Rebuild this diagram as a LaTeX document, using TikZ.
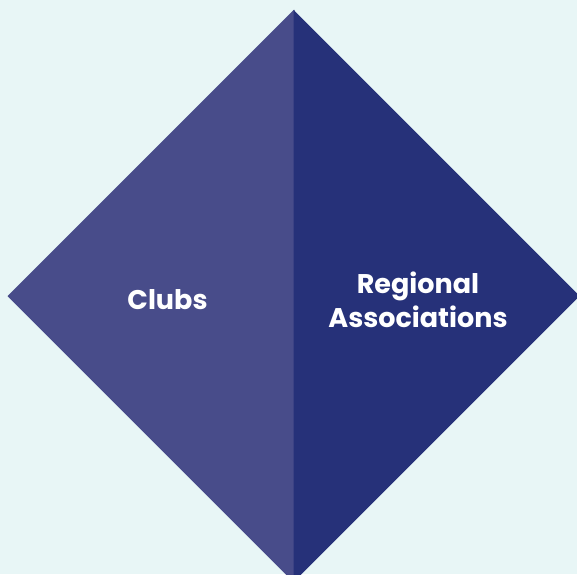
\documentclass[tikz,border=0pt]{standalone}
\usepackage{fontspec}
\setmainfont{Poppins}
\definecolor{bg}{HTML}{E8F6F6}
\definecolor{leftc}{HTML}{484C8A}
\definecolor{rightc}{HTML}{263179}
\begin{document}
\begin{tikzpicture}[x=1pt,y=1pt,
  lbl/.style={text=white,font=\fontsize{27}{34}\selectfont\bfseries,align=center,inner sep=0pt}]
\fill[bg] (0,0) rectangle (577,574);
\useasboundingbox (0,0) rectangle (577,574);
\coordinate (T) at (293.5,564);
\coordinate (L) at (7.5,278);
\coordinate (R) at (579.5,278);
\coordinate (B) at (293.5,-8);
\fill[leftc] (T) -- (L) -- (B) -- ([xshift=1pt]B) -- ([xshift=1pt]T) -- cycle;
\fill[rightc] (T) -- (R) -- (B) -- cycle;
\node[lbl,anchor=base] (clubs) at (167.5,265) {Clubs};
\node[lbl,anchor=base] (reg) at (418,281) {Regional};
\node[lbl,anchor=base] (assoc) at (418,247) {Associations};
\end{tikzpicture}
\end{document}
